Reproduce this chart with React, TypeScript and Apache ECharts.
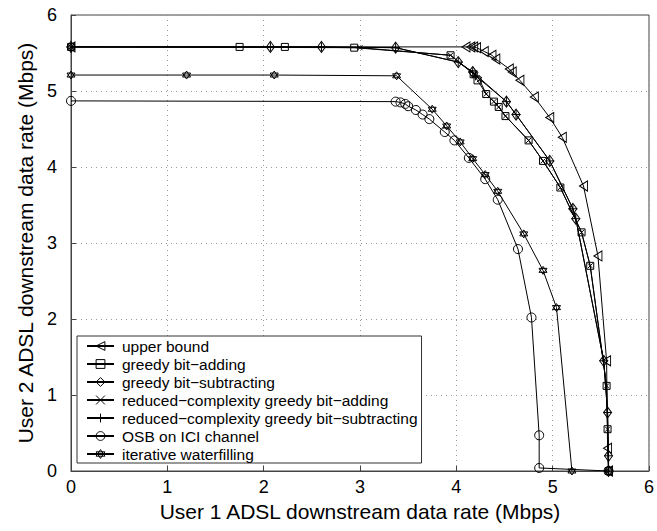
import React, { useEffect, useRef } from "react";
import * as echarts from "echarts";

const seriesNames = [
  "upper bound",
  "greedy bit−adding",
  "greedy bit−subtracting",
  "reduced−complexity greedy bit−adding",
  "reduced−complexity greedy bit−subtracting",
  "OSB on ICI channel",
  "iterative waterfilling",
];

const upperX = [0, 4.10, 4.15, 4.18, 4.21, 4.29, 4.37, 4.41, 4.55, 4.58, 4.66, 4.81, 4.97, 5.10, 5.32, 5.47, 5.56, 5.57, 5.58];
const upperY = [5.58, 5.58, 5.58, 5.58, 5.57, 5.52, 5.47, 5.42, 5.29, 5.25, 5.14, 4.92, 4.65, 4.39, 3.75, 2.83, 1.45, 0.30, 0];

const addX = [0, 1.75, 2.22, 2.94, 3.94, 4.18, 4.22, 4.31, 4.39, 4.44, 4.51, 4.75, 4.90, 5.08, 5.30, 5.39, 5.56, 5.57, 5.58];
const addY = [5.58, 5.58, 5.58, 5.57, 5.47, 5.22, 5.14, 4.96, 4.86, 4.79, 4.67, 4.35, 4.08, 3.73, 3.14, 2.70, 1.12, 0.55, 0];

const subX = [0, 2.07, 2.60, 3.37, 4.02, 4.17, 4.52, 4.62, 4.97, 5.21, 5.24, 5.53, 5.57, 5.58, 5.58];
const subY = [5.58, 5.58, 5.58, 5.57, 5.38, 5.25, 4.86, 4.69, 4.08, 3.45, 3.32, 1.45, 0.77, 0.20, 0];

const rcAddX = [0, 3.00, 3.94, 4.20, 4.24, 4.31, 4.39, 4.44, 4.51, 4.75, 4.90, 5.08, 5.30, 5.39, 5.56, 5.57, 5.58];
const rcAddY = [5.58, 5.57, 5.47, 5.21, 5.15, 4.96, 4.86, 4.79, 4.67, 4.35, 4.08, 3.73, 3.14, 2.70, 1.12, 0.55, 0];

const rcSubX = [0, 2.07, 2.60, 3.37, 4.02, 4.17, 4.20, 4.52, 4.62, 4.97, 5.21, 5.24, 5.53, 5.57, 5.58, 5.58];
const rcSubY = [5.58, 5.58, 5.58, 5.57, 5.38, 5.25, 5.20, 4.86, 4.69, 4.08, 3.45, 3.32, 1.45, 0.77, 0.20, 0];

const osbX = [0, 3.37, 3.42, 3.47, 3.50, 3.58, 3.65, 3.72, 3.88, 3.98, 4.13, 4.30, 4.43, 4.64, 4.78, 4.86, 4.86, 5.58];
const osbY = [4.87, 4.86, 4.85, 4.83, 4.80, 4.75, 4.69, 4.63, 4.46, 4.35, 4.12, 3.84, 3.57, 2.92, 2.02, 0.47, 0.04, 0];

const iwX = [0, 1.20, 2.11, 3.38, 3.75, 3.90, 4.04, 4.17, 4.30, 4.43, 4.70, 4.90, 5.04, 5.20];
const iwY = [5.21, 5.21, 5.21, 5.20, 4.76, 4.54, 4.33, 4.11, 3.90, 3.68, 3.12, 2.64, 2.15, 0];

const xTicks = [0, 1, 2, 3, 4, 5, 6];

const SYM_TRI = "path://M10,0 L0,5.77 L10,11.55 Z";
const SYM_X = "path://M0,0 L10,10 M10,0 L0,10";
const SYM_PLUS = "path://M5,0 L5,10 M0,5 L10,5";
const SYM_STAR = "path://M5,0 L9.33,7.5 L0.67,7.5 Z M5,10 L0.67,2.5 L9.33,2.5 Z";

const FONT = "'Liberation Sans', Arial, Helvetica, sans-serif";
const HOLLOW = { color: "none", borderColor: "#000", borderWidth: 1 };

function zip(xs: number[], ys: number[]) {
  return xs.map((x, i) => [x, ys[i]]);
}

export default function App() {
  const ref = useRef<HTMLDivElement>(null);
  useEffect(() => {
    if (!ref.current) return;
    const chart = echarts.init(ref.current, null, { renderer: "svg" });
    const mk = (name: string, data: number[][], symbol: string, size: any) => ({
      name,
      type: "line",
      data,
      symbol,
      symbolSize: size,
      showSymbol: true,
      lineStyle: { color: "#000", width: 1 },
      itemStyle: HOLLOW,
      emphasis: { disabled: true },
      z: 3,
    });
    chart.setOption({
      animation: false,
      backgroundColor: "#fff",
      textStyle: { fontFamily: FONT },
      grid: {
        left: 71,
        right: 6,
        top: 15,
        bottom: 60,
        show: true,
        borderColor: "#444",
        borderWidth: 1,
        backgroundColor: "rgba(0,0,0,0)",
      },
      legend: {
        orient: "vertical",
        left: 77,
        top: 336,
        padding: [2, 4, 1, 9],
        backgroundColor: "#fff",
        borderColor: "#333",
        borderWidth: 1,
        borderRadius: 0,
        itemWidth: 27,
        itemHeight: 11,
        itemGap: 2,
        itemStyle: HOLLOW,
        textStyle: { fontSize: 15.5, color: "#000", fontFamily: FONT, lineHeight: 16, padding: [0, 0, 0, 3] },
        data: seriesNames.map((n) => ({ name: n, itemStyle: HOLLOW })),
        selectedMode: false,
      },
      xAxis: {
        type: "value",
        min: 0,
        max: 6,
        interval: 1,
        name: "User 1 ADSL downstream data rate (Mbps)",
        nameLocation: "middle",
        nameGap: 26,
        nameTextStyle: { fontSize: 21, color: "#000", fontFamily: FONT },
        axisLine: { show: true, lineStyle: { color: "#444", width: 1 } },
        axisTick: { show: true, inside: true, length: 5, lineStyle: { color: "#444" } },
        axisLabel: {
          fontSize: 18,
          color: "#000",
          margin: 7,
          fontFamily: FONT,
          formatter: (v: number) => (xTicks.includes(v) ? String(v) : ""),
        },
        splitLine: { show: true, lineStyle: { color: "#999", type: [1, 4], width: 1 } },
      },
      yAxis: {
        type: "value",
        min: 0,
        max: 6,
        interval: 1,
        name: "User 2 ADSL downstream data rate (Mbps)",
        nameLocation: "middle",
        nameGap: 31,
        nameTextStyle: { fontSize: 21, color: "#000", fontFamily: FONT },
        axisLine: { show: true, lineStyle: { color: "#444", width: 1 } },
        axisTick: { show: true, inside: true, length: 5, lineStyle: { color: "#444" } },
        axisLabel: { fontSize: 18, color: "#000", margin: 14, fontFamily: FONT },
        splitLine: { show: true, lineStyle: { color: "#999", type: [1, 4], width: 1 } },
      },
      series: [
        mk(seriesNames[0], zip(upperX, upperY), SYM_TRI, [8, 10]),
        mk(seriesNames[1], zip(addX, addY), "rect", 7),
        mk(seriesNames[2], zip(subX, subY), "diamond", [8, 11]),
        mk(seriesNames[3], zip(rcAddX, rcAddY), SYM_X, 5),
        mk(seriesNames[4], zip(rcSubX, rcSubY), SYM_PLUS, 9),
        mk(seriesNames[5], zip(osbX, osbY), "circle", 9),
        mk(seriesNames[6], zip(iwX, iwY), SYM_STAR, 8),
      ],
    });
    return () => chart.dispose();
  }, []);
  return <div ref={ref} style={{ width: 657, height: 531, position: "absolute", left: 0, top: 0 }} />;
}
